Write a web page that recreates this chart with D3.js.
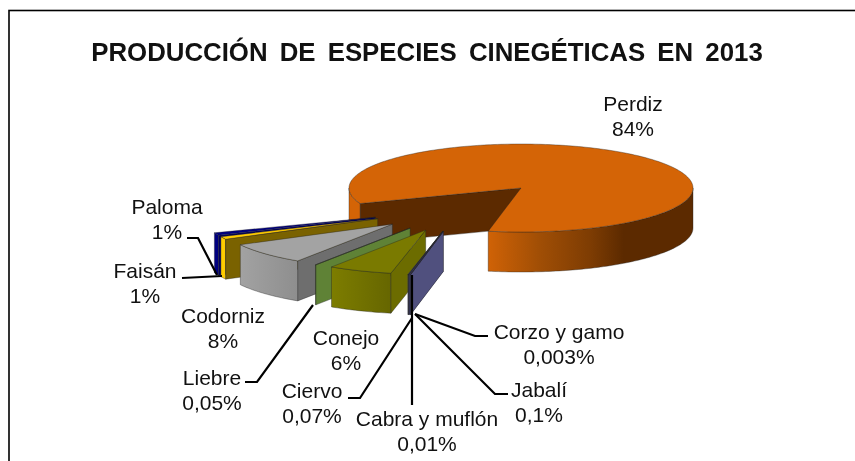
<!DOCTYPE html>
<html><head><meta charset="utf-8"><script src="https://d3js.org/d3.v7.min.js"></script>
<style>html,body{margin:0;padding:0;background:#fff;overflow:hidden}svg{display:block;filter:blur(0.4px)}text{font-family:"Liberation Sans",Arial,sans-serif;fill:#111}</style>
</head><body><svg id="c" width="855" height="461"></svg>
<script>
const categories=["Perdiz","Corzo y gamo","Jabalí","Cabra y muflón","Ciervo","Conejo","Liebre","Codorniz","Faisán","Paloma"];
const values=[84,0.003,0.1,0.01,0.07,6,0.05,8,1,1];
const valueLabels=["84%","0,003%","0,1%","0,01%","0,07%","6%","0,05%","8%","1%","1%"];
const topColors=["#d46406","#50507e","#3f3f70","#50507e","#50507e","#7a7a00","#5f8236","#a3a3a3","#ffcc00","#000080"];
const wallColors=["#5c2a00","#50507e","#3f3f70","#50507e","#50507e","#6c6c00","#5f8236","#6e6e6e","#7a6200","#000060"];
const outerLight=["#d46406","#50507e","#3f3f70","#50507e","#50507e","#7d7d00","#5f8236","#a2a2a2","#ffcc00","#000080"];
const outerDark=["#5c2a00","#3f3f70","#3f3f70","#3f3f70","#3f3f70","#666600","#5f8236","#8e8e8e","#ffcc00","#000080"];
const labelPos=[[633,111],[559,339],[539,397],[427,426],[312,398],[346,345],[212,385],[223,323],[145,278],[167,214]];
const leaders=[null,[[488,336],[475,336],[415,314]],[[508,394],[495,394],[415,314]],[[412,405],[412,275]],[[348,398],[360,398],[412,318]],null,[[245,382],[257,382],[313,305]],null,[[182,278],[222,276]],[[187,238],[198,238],[217,275]]];

const svg=d3.select("#c");
svg.append("rect").attr("x",9).attr("y",10.5).attr("width",900).attr("height",500).attr("fill","#fff").attr("stroke","#000").attr("stroke-width",1.6);
svg.append("text").attr("x",427).attr("y",61).attr("text-anchor","middle").attr("font-weight","bold").attr("font-size",25.8).style("word-spacing","5px").text("PRODUCCIÓN DE ESPECIES CINEGÉTICAS EN 2013");

const rx=172,ry=44,depth=40,explode=0.54;
const rad=d=>d*Math.PI/180;
const perdizStart=rad(249.3);
const pie=d3.pie().sort(null).value(d=>d).startAngle(perdizStart).endAngle(perdizStart+2*Math.PI);
const arcs=pie(values);
const perdizMid=(arcs[0].startAngle+arcs[0].endAngle)/2;
const unit=a=>[Math.sin(a),-Math.cos(a)];
const pc=[521,188];
const base=[pc[0]-explode*rx*unit(perdizMid)[0],pc[1]-explode*ry*unit(perdizMid)[1]];
const defs=svg.append("defs");
const line=d3.line();
function apex(i){
  const m=(arcs[i].startAngle+arcs[i].endAngle)/2,u=unit(m);
  return [base[0]+explode*rx*u[0],base[1]+explode*ry*u[1]+(i?2:0)];
}
function arcPts(c,a0,a1){
  const n=Math.max(2,Math.ceil(Math.abs(a1-a0)/0.02)),p=[];
  for(let k=0;k<=n;k++){const a=a0+(a1-a0)*k/n,u=unit(a);p.push([c[0]+rx*u[0],c[1]+ry*u[1]]);}
  return p;
}
const down=pts=>pts.map(p=>[p[0],p[1]+depth]);
const poly=(g,pts,fill,sw=0.5)=>g.append("path").attr("d",line(pts)+"Z").attr("fill",fill).attr("stroke","#222").attr("stroke-width",sw).attr("stroke-linejoin","round").attr("stroke-opacity",0.75);
function grad(id,x0,x1,stops){
  const g=defs.append("linearGradient").attr("id",id).attr("gradientUnits","userSpaceOnUse").attr("x1",x0).attr("x2",x1).attr("y1",0).attr("y2",0);
  stops.forEach(s=>g.append("stop").attr("offset",s[0]).attr("stop-color",s[1]));
  return `url(#${id})`;
}
function outerWall(g,c,a0,a1,fill){
  const top=arcPts(c,a0,a1);
  poly(g,top.concat(down(top).reverse()),fill);
}
function drawSlice(i){
  const g=svg.append("g").attr("class","slice");
  const c=apex(i),a0=arcs[i].startAngle,a1=arcs[i].endAngle;
  const p0=arcPts(c,a0,a0)[0],p1=arcPts(c,a1,a1)[0];
  const arc=arcPts(c,a0,a1);
  if(i===0){
    poly(g,[p0,c,[c[0],c[1]+depth],[p0[0],p0[1]+depth]],wallColors[0]);
    outerWall(g,c,a0,rad(270),outerLight[0]);
    outerWall(g,c,rad(450),a1,grad("g0",c[0]-32,c[0]+172,[[0,"#cf6206"],[0.25,"#a04e05"],[0.5,"#7d3c03"],[0.66,"#5c2a00"],[1,"#5c2a00"]]));
  } else {
    outerWall(g,c,a0,a1,grad("g"+i,Math.min(p0[0],p1[0]),Math.max(p0[0],p1[0]),[[0,outerLight[i]],[1,outerDark[i]]]));
    poly(g,[c,p0,[p0[0],p0[1]+depth],[c[0],c[1]+depth]],wallColors[i]);
  }
  poly(g,[c].concat(arc),topColors[i]);
}
[0,9,8,7,6,5,4,3,2,1].forEach(drawSlice);

const ld=d3.line();
leaders.forEach(l=>{if(l)svg.append("path").attr("d",ld(l)).attr("fill","none").attr("stroke","#000").attr("stroke-width",2.2);});
categories.forEach((c,i)=>{
  const t=svg.append("text").attr("text-anchor","middle").attr("font-size",21);
  t.append("tspan").attr("x",labelPos[i][0]).attr("y",labelPos[i][1]).text(c);
  t.append("tspan").attr("x",labelPos[i][0]).attr("y",labelPos[i][1]+24.5).text(valueLabels[i]);
});
</script></body></html>
